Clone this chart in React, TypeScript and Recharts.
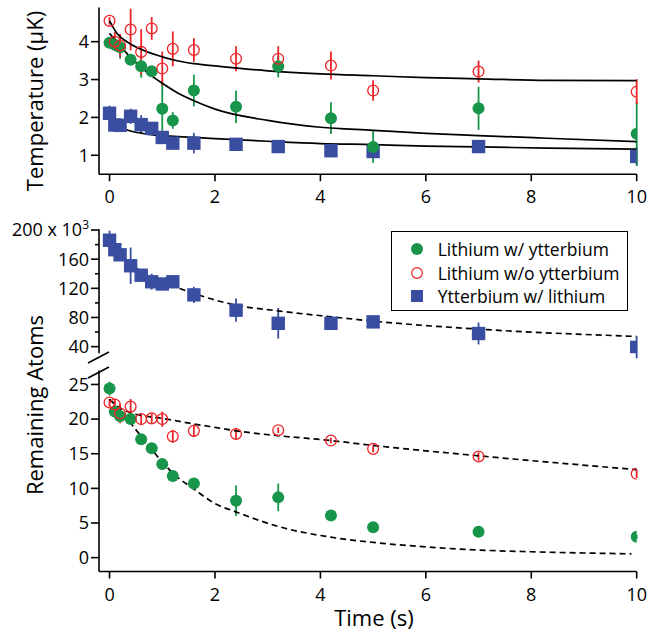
import React from "react";
import { ComposedChart, Scatter, Line, XAxis, YAxis, ErrorBar } from "recharts";

// sample times (s)
const TIMES = [0, 0.1, 0.2, 0.4, 0.6, 0.8, 1, 1.2, 1.6, 2.4, 3.2, 4.2, 5, 7, 10];
const X_TICKS = [0, 2, 4, 6, 8, 10];

// temperature (µK)
const TEMP_LI_YB = [3.97, 3.92, 3.85, 3.52, 3.35, 3.22, 2.23, 1.92, 2.71, 2.28, 3.35, 1.98, 1.22, 2.24, 1.57];
const TEMP_LI_YB_ERR = [0.08, 0.15, 0.3, 0.12, 0.3, 0.1, 0.75, 0.22, 0.42, 0.43, 0.29, 0.42, 0.42, 0.57, 0.84];
const TEMP_LI = [4.55, 4.0, 3.9, 4.32, 3.73, 4.35, 3.29, 3.81, 3.78, 3.55, 3.55, 3.37, 2.71, 3.21, 2.68];
const TEMP_LI_ERR = [0.1, 0.25, 0.3, 0.55, 0.6, 0.3, 0.45, 0.46, 0.31, 0.33, 0.33, 0.37, 0.27, 0.29, 0.33];
const TEMP_YB = [2.11, 1.8, 1.79, 2.03, 1.81, 1.71, 1.47, 1.32, 1.32, 1.29, 1.23, 1.12, 1.1, 1.23, 0.97];
const TEMP_YB_ERR = [0.2, 0.1, 0.1, 0.2, 0.25, 0.1, 0.1, 0.1, 0.27, 0.1, 0.1, 0.1, 0.1, 0.1, 0.25];

// temperature fits
const TEMP_FIT_T = [0, 0.15, 0.35, 0.7, 1, 1.3, 1.6, 2, 3, 4, 5, 6, 7, 8.3, 10];
const TEMP_FIT_LI = [4.55, 4.2, 3.98, 3.74, 3.6, 3.49, 3.42, 3.36, 3.23, 3.15, 3.1, 3.05, 3.02, 2.98, 2.97];
const TEMP_FIT_LI_YB = [4.22, 3.97, 3.66, 3.2, 2.9, 2.64, 2.44, 2.22, 1.92, 1.74, 1.66, 1.58, 1.52, 1.45, 1.36];
const TEMP_FIT_YB = [1.97, 1.77, 1.66, 1.56, 1.52, 1.49, 1.47, 1.44, 1.37, 1.31, 1.28, 1.24, 1.22, 1.19, 1.16];

// ytterbium atoms (x 10^3)
const ATOMS_YB = [186, 173, 166, 151, 138, 129, 126, 129, 111, 90, 72, 72, 74, 58, 39];
const ATOMS_YB_ERR = [13, 4, 4, 25, 5, 11, 4, 4, 11, 16, 21, 5, 4, 15, 15];
const YB_FIT_T = [0, 0.1, 0.2, 0.4, 0.6, 0.8, 1, 1.6, 2, 2.4, 3.2, 4.2, 5, 7, 10];
const YB_FIT = [192, 181, 171, 155, 143, 135, 129, 113, 104, 97, 89, 81, 75, 64, 54];

// lithium atoms (x 10^3)
const ATOMS_LI_YB = [24.4, 21.1, 20.4, 20.0, 17.1, 15.8, 13.5, 11.8, 10.7, 8.2, 8.7, 6.1, 4.4, 3.75, 3.0];
const ATOMS_LI_YB_ERR = [1, 0.5, 0.9, 0.5, 0.5, 0.5, 0.5, 0.5, 0.5, 2.2, 2.0, 0.7, 0.3, 0.3, 0.3];
const ATOMS_LI = [22.4, 22.1, 20.8, 21.8, 20.0, 20.1, 20.0, 17.5, 18.3, 17.85, 18.4, 16.9, 15.7, 14.6, 12.1];
const ATOMS_LI_ERR = [0.5, 0.8, 1.4, 1.1, 0.8, 0.7, 1.1, 0.9, 0.9, 0.8, 0.4, 0.4, 0.5, 0.6, 0.6];
const LI_YB_FIT_T = [0, 0.2, 0.6, 1, 1.2, 1.6, 2, 2.4, 3.2, 4.2, 5, 6, 7, 8, 9.9];
const LI_YB_FIT = [22.9, 21.3, 17.5, 13.8, 12.2, 9.9, 7.8, 6.6, 4.5, 2.95, 2.2, 1.55, 1.1, 0.85, 0.55];
const LI_FIT_T = [0, 0.2, 0.4, 0.7, 1, 1.6, 2, 2.4, 3.2, 4.2, 5, 7, 10];
const LI_FIT = [22.8, 21.6, 20.9, 20.4, 20.1, 19.3, 18.8, 18.3, 17.6, 16.9, 16.2, 14.7, 12.7];

const GREEN = "#17954a";
const RED = "#ee2428";
const BLUE = "#3a4ea1";
const FONT = "'Open Sans', sans-serif";

const pts = (vals: number[], errs: number[]) => TIMES.map((t, i) => ({ t, v: vals[i], e: errs[i] }));
const fit = (ts: number[], vs: number[]) => ts.map((t, i) => ({ t, v: vs[i] }));

const greenDot = (p: any) => <circle cx={p.cx} cy={p.cy} r={6} fill={GREEN} />;
const redRing = (p: any) => (
    <circle cx={p.cx} cy={p.cy} r={5.4} fill="none" stroke={RED} strokeWidth={1.3} />
);
const blueSquare = (p: any) => (
    <rect x={p.cx - 6.7} y={p.cy - 6.7} width={13.4} height={13.4} fill={BLUE} />
);

const axisLine = { stroke: "#000", strokeWidth: 1.6 };
const tickLine = { stroke: "#000", strokeWidth: 1.6 };
const tickStyle = { fill: "#000", fontSize: 18, fontFamily: FONT };
const MARGIN_X = { left: 0, right: 23.3 };

function AtomTick(props: any) {
    const { x, y, payload } = props;
    const v = payload.value;
    const major = v % 40 === 0;
    return (
        <g>
            <line x1={x + (major ? 2 : 6)} x2={x + 10} y1={y} y2={y} stroke="#000" strokeWidth={1.6} />
            {major && (
                <text x={x} y={y} dy="0.355em" textAnchor="end" fontSize={18} fontFamily={FONT} fill="#000">
                    {v === 200 ? (
                        <>
                            200 x 10
                            <tspan dy="-7" fontSize={12}>3</tspan>
                        </>
                    ) : (
                        v
                    )}
                </text>
            )}
        </g>
    );
}

function series(data: any[], shape: any, color: string, name: string) {
    return (
        <Scatter
            name={name}
            data={data}
            dataKey="v"
            shape={shape}
            isAnimationActive={false}
        >
            <ErrorBar dataKey="e" direction="y" width={0} stroke={color} strokeWidth={1.8} isAnimationActive={false} />
        </Scatter>
    );
}

function fitLine(data: any[], dashed: boolean, key: string) {
    return (
        <Line
            key={key}
            data={data}
            dataKey="v"
            type="monotone"
            stroke="#000"
            strokeWidth={1.7}
            strokeDasharray={dashed ? "6 4" : undefined}
            dot={false}
            activeDot={false}
            isAnimationActive={false}
        />
    );
}

export default function App() {
    return (
        <div style={{ position: "absolute", left: 0, top: 0, width: 660, height: 631, background: "#fff", fontFamily: FONT }}>
            {/* temperature */}
            <div style={{ position: "absolute", left: 0, top: 0 }}>
                <ComposedChart width={660} height={215} margin={{ top: 7.6, bottom: 0, ...MARGIN_X }}>
                    <XAxis
                        dataKey="t"
                        type="number"
                        domain={[-0.2, 10]}
                        ticks={X_TICKS}
                        interval={0}
                        allowDataOverflow
                        height={40.8}
                        axisLine={axisLine}
                        tickLine={tickLine}
                        tickSize={7}
                        tickMargin={9}
                        tick={tickStyle}
                    />
                    <YAxis
                        dataKey="v"
                        type="number"
                        domain={[0.5, 4.9]}
                        ticks={[1, 2, 3, 4]}
                        interval={0}
                        allowDataOverflow
                        width={99}
                        axisLine={axisLine}
                        tickLine={tickLine}
                        tickSize={8}
                        tickMargin={2}
                        tick={tickStyle}
                    />
                    {series(pts(TEMP_YB, TEMP_YB_ERR), blueSquare, BLUE, "Ytterbium w/ lithium")}
                    {series(pts(TEMP_LI_YB, TEMP_LI_YB_ERR), greenDot, GREEN, "Lithium w/ ytterbium")}
                    {series(pts(TEMP_LI, TEMP_LI_ERR), redRing, RED, "Lithium w/o ytterbium")}
                    {fitLine(fit(TEMP_FIT_T, TEMP_FIT_LI), false, "f1")}
                    {fitLine(fit(TEMP_FIT_T, TEMP_FIT_LI_YB), false, "f2")}
                    {fitLine(fit(TEMP_FIT_T, TEMP_FIT_YB), false, "f3")}
                </ComposedChart>
            </div>

            {/* ytterbium atoms */}
            <div style={{ position: "absolute", left: 0, top: 200 }}>
                <ComposedChart width={660} height={160} margin={{ top: 29.3, bottom: 6.8, ...MARGIN_X }}>
                    <XAxis dataKey="t" type="number" domain={[-0.2, 10]} allowDataOverflow hide />
                    <YAxis
                        dataKey="v"
                        type="number"
                        domain={[31, 201]}
                        ticks={[40, 60, 80, 100, 120, 140, 160, 180, 200]}
                        interval={0}
                        allowDataOverflow
                        width={99}
                        axisLine={axisLine}
                        tickLine={false}
                        tickSize={8}
                        tickMargin={2}
                        tick={<AtomTick />}
                    />
                    {series(pts(ATOMS_YB, ATOMS_YB_ERR), blueSquare, BLUE, "Ytterbium w/ lithium")}
                    {fitLine(fit(YB_FIT_T, YB_FIT), true, "f4")}
                </ComposedChart>
            </div>

            {/* lithium atoms */}
            <div style={{ position: "absolute", left: 0, top: 360 }}>
                <ComposedChart width={660} height={271} margin={{ top: 10.6, bottom: 0, ...MARGIN_X }}>
                    <XAxis
                        dataKey="t"
                        type="number"
                        domain={[-0.2, 10]}
                        ticks={X_TICKS}
                        interval={0}
                        allowDataOverflow
                        height={59.5}
                        axisLine={axisLine}
                        tickLine={tickLine}
                        tickSize={7}
                        tickMargin={10}
                        tick={tickStyle}
                    />
                    <YAxis
                        dataKey="v"
                        type="number"
                        domain={[-2, 27]}
                        ticks={[0, 5, 10, 15, 20, 25]}
                        interval={0}
                        allowDataOverflow
                        width={99}
                        axisLine={axisLine}
                        tickLine={tickLine}
                        tickSize={8}
                        tickMargin={2}
                        tick={tickStyle}
                    />
                    {series(pts(ATOMS_LI_YB, ATOMS_LI_YB_ERR), greenDot, GREEN, "Lithium w/ ytterbium")}
                    {series(pts(ATOMS_LI, ATOMS_LI_ERR), redRing, RED, "Lithium w/o ytterbium")}
                    {fitLine(fit(LI_YB_FIT_T, LI_YB_FIT), true, "f5")}
                    {fitLine(fit(LI_FIT_T, LI_FIT), true, "f6")}
                </ComposedChart>
            </div>

            {/* titles and axis break */}
            <svg width={660} height={631} style={{ position: "absolute", left: 0, top: 0, pointerEvents: "none" }}>
                <line x1={88} y1={363} x2={109} y2={352} stroke="#000" strokeWidth={1.6} />
                <line x1={88} y1={378} x2={109} y2={367} stroke="#000" strokeWidth={1.6} />
                <text transform="translate(43,101) rotate(-90)" textAnchor="middle" fontSize={22} fontFamily={FONT} fill="#000">
                    Temperature (µK)
                </text>
                <text transform="translate(43,405) rotate(-90)" textAnchor="middle" fontSize={22} fontFamily={FONT} fill="#000">
                    Remaining Atoms
                </text>
                <text x={374} y={626} textAnchor="middle" fontSize={22} fontFamily={FONT} fill="#000">
                    Time (s)
                </text>
            </svg>

            {/* legend */}
            <div
                style={{
                    position: "absolute",
                    left: 390.7,
                    top: 231,
                    width: 237,
                    height: 80,
                    boxSizing: "border-box",
                    border: "1.5px solid #000",
                    background: "#fff",
                }}
            >
                {[
                    { name: "Lithium w/ ytterbium", icon: <circle cx={8} cy={8} r={6} fill={GREEN} /> },
                    { name: "Lithium w/o ytterbium", icon: <circle cx={8} cy={8} r={5.3} fill="none" stroke={RED} strokeWidth={1.2} /> },
                    { name: "Ytterbium w/ lithium", icon: <rect x={2} y={2} width={12} height={12} fill={BLUE} /> },
                ].map((item, i) => (
                    <div
                        key={item.name}
                        style={{ position: "absolute", left: 17, top: 6 + i * 23.5, height: 22, display: "flex", alignItems: "center" }}
                    >
                        <svg width={16} height={16}>{item.icon}</svg>
                        <span style={{ marginLeft: 13, fontSize: 17.5, color: "#000", whiteSpace: "nowrap", lineHeight: "22px" }}>
                            {item.name}
                        </span>
                    </div>
                ))}
            </div>
        </div>
    );
}
